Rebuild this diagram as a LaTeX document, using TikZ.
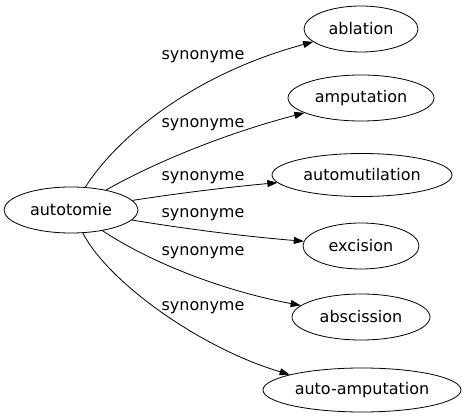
\documentclass[tikz,border=0pt]{standalone}
\usepackage{fontspec}
\setmainfont{DejaVu Sans}
\usetikzlibrary{shapes.geometric,arrows.meta}

\begin{document}
\begin{tikzpicture}[x=1pt,y=-1pt,
		every node/.style={font=\fontsize{16}{19}\selectfont},
		mot/.style={ellipse, draw, line width=0.8pt, inner sep=0pt, minimum height=46pt},
		syn/.style={line width=0.8pt, -{Triangle[length=10pt,width=7pt]}},
		lab/.style={inner sep=0pt}]
	\useasboundingbox (0,0) rectangle (466,419);
	% mots
	\node[mot, minimum width=134pt] (auto) at (71,210) {autotomie};
	\node[mot, minimum width=114pt] (abl) at (361,29) {ablation};
	\node[mot, minimum width=146pt] (amp) at (361,98) {amputation};
	\node[mot, minimum width=180pt, minimum height=43pt] (mutil) at (362,175) {automutilation};
	\node[mot, minimum width=116pt] (exc) at (361,246) {excision};
	\node[mot, minimum width=138pt] (absc) at (361,317) {abscission};
	\node[mot, minimum width=198pt, minimum height=44pt] (aamp) at (362,390) {auto-amputation};
	% synonymes
	\draw[syn] (auto) .. controls (115,140) and (190,75) .. (abl) node[lab] at (203,57) {synonyme};
	\draw[syn] (auto) .. controls (150,165) and (220,135) .. (amp) node[lab] at (203,125) {synonyme};
	\draw[syn] (auto) .. controls (180,193) and (230,187) .. (mutil) node[lab] at (203,178) {synonyme};
	\draw[syn] (auto) .. controls (180,228) and (240,236) .. (exc) node[lab] at (203,215) {synonyme};
	\draw[syn] (auto) .. controls (150,262) and (220,290) .. (absc) node[lab] at (203,253) {synonyme};
	\draw[syn] (auto) .. controls (108,282) and (200,348) .. (aamp.168) node[lab] at (203,308) {synonyme};
\end{tikzpicture}
\end{document}
